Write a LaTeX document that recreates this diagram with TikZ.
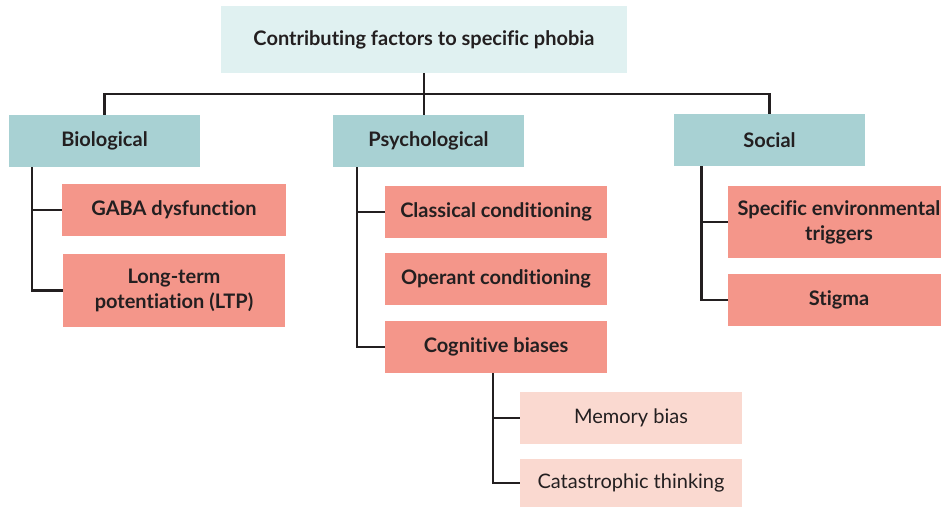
\documentclass[tikz,border=0pt]{standalone}
\usepackage{fontspec}
\setmainfont[Ligatures=NoCommon]{Lato}
\definecolor{ink}{HTML}{231F20}
\definecolor{titlefill}{HTML}{E0F1F1}
\definecolor{catfill}{HTML}{A8D1D3}
\definecolor{factorfill}{HTML}{F4968A}
\definecolor{subfill}{HTML}{FAD9D0}
\begin{document}
\begin{tikzpicture}[x=1pt,y=-1pt,
  box/.style={inner sep=0pt, align=center, text=ink, font=\fontsize{20}{25}\selectfont\bfseries},
  titlebox/.style={box, fill=titlefill, minimum width=406pt, minimum height=67pt},
  catbox/.style={box, fill=catfill, minimum width=191pt, minimum height=52pt},
  factorbox/.style={box, fill=factorfill, minimum width=222pt, minimum height=52pt},
  subbox/.style={box, fill=subfill, minimum width=222pt, minimum height=52pt, font=\fontsize{20}{25}\selectfont},
  link/.style={draw=ink, line width=2.5pt, line join=miter}]
\useasboundingbox (0,0) rectangle (941,507);
\begin{scope}
\clip (0,0) rectangle (941,507);
% top of the tree
\node[titlebox] (title) at (424,39.5) {Contributing factors to specific phobia};
% three categories
\node[catbox] (bio) at (104.5,141) {Biological};
\node[catbox] (psych) at (428.5,141) {Psychological};
\node[catbox] (social) at (769.5,140) {Social};
% biological factors
\node[factorbox, minimum width=224pt] (gaba) at (174,210) {GABA dysfunction};
\node[factorbox, minimum height=73pt] (ltp) at (174,290.5) {Long-term\\potentiation (LTP)};
% psychological factors
\node[factorbox] (classical) at (496,212) {Classical conditioning};
\node[factorbox] (operant) at (496,279) {Operant conditioning};
\node[factorbox] (cognitive) at (496,347) {Cognitive biases};
\node[subbox] (memory) at (631,418) {Memory bias};
\node[subbox, minimum height=48pt] (catastrophic) at (631,483) {Catastrophic thinking};
% social factors
\node[factorbox, minimum height=72pt] (environ) at (839,222) {Specific environmental\\triggers};
\node[factorbox] (stigma) at (839,300) {Stigma};
\end{scope}
% branch points
\coordinate (bus) at (0,94);
\coordinate (bioT) at (32,167);
\coordinate (psychT) at (357,167);
\coordinate (socialT) at (701.5,166);
\coordinate (cogT) at (493,373);
% connectors
\draw[link] (title.south) -- (title.south |- psych.north);
\draw[link] (bio.north) -- (bio.north |- bus) -| (social.north);
\draw[link] (bioT) |- (gaba.west);
\draw[link] (bioT) |- (ltp.west);
\draw[link] (psychT) |- (classical.west);
\draw[link] (psychT) |- (cognitive.west);
\draw[link] (socialT) |- (environ.west);
\draw[link] (socialT) |- (stigma.west);
\draw[link] (cogT) |- (memory.west);
\draw[link] (cogT) |- (catastrophic.west);
\end{tikzpicture}
\end{document}
